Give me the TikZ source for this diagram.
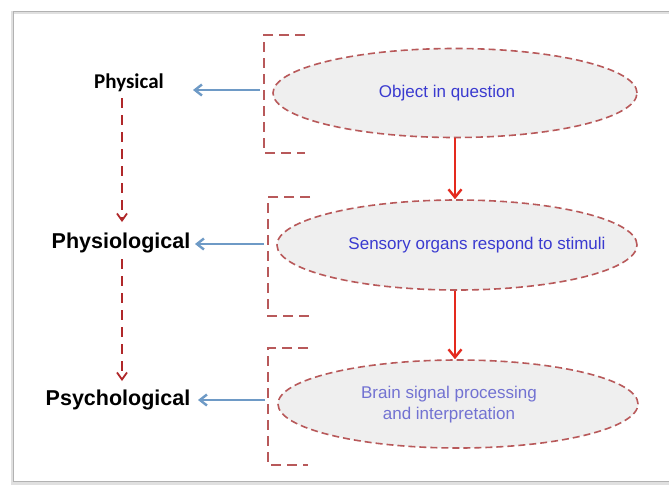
\documentclass[tikz,border=0pt]{standalone}
\usepackage{fontspec}
\setmainfont{Liberation Sans}
\newfontfamily\calfont{Carlito}
\usetikzlibrary{arrows.meta,shapes.geometric}
\definecolor{brk}{HTML}{B8595A}
\definecolor{ellfill}{HTML}{EFEFEF}
\definecolor{redarr}{HTML}{E42A1E}
\definecolor{bluearr}{HTML}{6E9AC6}
\definecolor{lbl}{HTML}{3A3AD0}
\definecolor{lbllight}{HTML}{7272D2}
\definecolor{leftarr}{HTML}{B0282A}
\tikzset{
  ell/.style={draw=brk, fill=ellfill, line width=1.6pt, dash pattern=on 7pt off 4pt,
    ellipse, inner sep=0pt},
  brack/.style={draw=brk, line width=2.2pt, dash pattern=on 10pt off 6pt},
  cat/.style={font=\bfseries\fontsize{21.5}{25}\selectfont, text=black},
  redar/.style={draw=redarr, line width=2.8pt, -{Straight Barb[length=8pt,width=13pt,line width=2.4pt]}},
  bluear/.style={draw=bluearr, line width=2.8pt, -{Straight Barb[length=7pt,width=11pt,line width=2.4pt]}},
  leftar/.style={draw=leftarr, line width=2pt, dash pattern=on 10pt off 7pt,
    -{Straight Barb[length=7pt,width=10pt,line width=1.8pt]}},
  etext/.style={text=lbl, font=\fontsize{17}{21}\selectfont, align=center}
}
\begin{document}
\begin{tikzpicture}[x=1pt,y=-1pt]
\useasboundingbox (0,0) rectangle (669,485);
\clip (0,0) rectangle (669,485);
\fill[white] (0,0) rectangle (669,485);
% frame
\draw[black!12, line width=3pt] (12,12) rectangle (690,483);
\draw[black!30, line width=0.8pt] (13,11) rectangle (690,481);
% ellipses
\node[ell, minimum width=364pt, minimum height=89pt] (e1) at (455,93) {};
\node[etext] at (447,93) {Object in question};
\node[ell, minimum width=360pt, minimum height=90pt] (e2) at (457,245) {};
\node[etext] at (477,245) {Sensory organs respond to stimuli};
\node[ell, minimum width=360pt, minimum height=88pt] (e3) at (458,404) {};
\node[etext, text=lbllight] at (449,405) {Brain signal processing\\and interpretation};
% brackets
\coordinate (b1a) at (305,35); \coordinate (b1b) at (264,35);
\coordinate (b1c) at (264,153); \coordinate (b1d) at (305,153);
\draw[brack] (b1a) -- (b1b) -- (b1c) -- (b1d);
\coordinate (b2a) at (310,197); \coordinate (b2b) at (268,197);
\coordinate (b2c) at (268,316); \coordinate (b2d) at (310,316);
\draw[brack] (b2a) -- (b2b) -- (b2c) -- (b2d);
\coordinate (b3a) at (308,348); \coordinate (b3b) at (268,348);
\coordinate (b3c) at (268,465); \coordinate (b3d) at (308,465);
\draw[brack] (b3a) -- (b3b) -- (b3c) -- (b3d);
% labels
\node[cat, font=\calfont\bfseries\fontsize{21}{25}\selectfont] (p1) at (129,83) {Physical};
\node[cat] (p2) at (121,243) {Physiological};
\node[cat] (p3) at (118,400) {Psychological};
% blue arrows
\coordinate (s1) at (260,90); \coordinate (t1) at (193,90);
\draw[bluear] (s1) -- (t1);
\coordinate (s2) at (264,244); \coordinate (t2) at (195,244);
\draw[bluear] (s2) -- (t2);
\coordinate (s3) at (265,400); \coordinate (t3) at (198,400);
\draw[bluear] (s3) -- (t3);
% red arrows
\draw[redar] (e1.south) -- (e2.north -| e1.south);
\draw[redar] (e2.south -| e1.south) -- (e3.north -| e1.south);
% left dashed arrows
\coordinate (l1) at (122,98); \coordinate (l2) at (122,222);
\draw[leftar] (l1) -- (l2);
\coordinate (l3) at (122,259); \coordinate (l4) at (122,381);
\draw[leftar] (l3) -- (l4);
\end{tikzpicture}
\end{document}
